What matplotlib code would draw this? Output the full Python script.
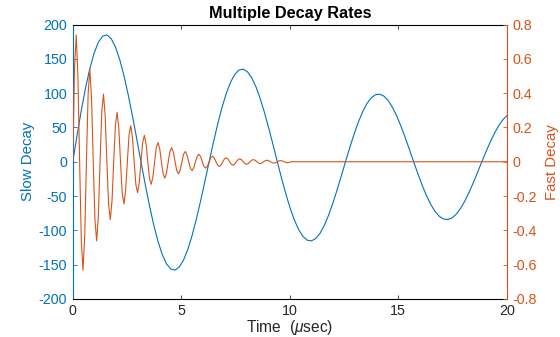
import numpy as np
import matplotlib.pyplot as plt

plt.rcParams['font.family'] = ['Liberation Sans', 'DejaVu Sans']
plt.rcParams['mathtext.fontset'] = 'custom'
plt.rcParams['mathtext.it'] = 'Liberation Sans:italic'
plt.rcParams['mathtext.rm'] = 'Liberation Sans'

BLUE = '#0072BD'
ORANGE = '#D95319'

SLOW_STEP = np.pi / 16
slow_decay = [
    0, 38.64, 75.05, 107.89, 135.98, 158.33, 174.21, 183.13, 184.89, 179.57,
    167.50, 149.27, 125.70, 97.80, 66.71, 33.67, 0, -33.02, -64.14, -92.21,
    -116.21, -135.31, -148.88, -156.51, -158.01, -153.46, -143.16, -127.57, -107.43, -83.59,
    -57.01, -28.78, 0, 28.22, 54.81, 78.80, 99.32, 115.64, 127.24, 133.76,
    135.04, 131.15, 122.35, 109.03, 91.81, 71.44, 48.72, 24.60, 0, -24.12,
    -46.85, -67.35, -84.88, -98.83, -108.74, -114.31, -115.41, -112.08, -104.56, -93.18,
    -78.47, -61.05, -41.64, -21.02, 0, 20.61, 40.04, 57.56, 72.54, 84.46,
    92.93, 97.70, 98.63, 95.79, 89.37, 79.64, 67.06, 52.18, 35.59, 17.97,
    0, -17.62, -34.22, -49.19, -62.00, -72.18, -79.43, -83.49, -84.29, -81.87,
    -76.38, -68.06, -57.31, -44.60, -30.42, -15.35, 0, 15.06, 29.24, 42.04,
    52.99, 61.69, 67.88,
]

# fast decay, sampled every pi/40 usec (8 samples per cycle) up to ~10 usec
FAST_STEP = np.pi / 40
fast_decay = [
    0, 0.5439, 0.7396, 0.5028, 0, -0.4648, -0.6321, -0.4297,
    0, 0.3973, 0.5402, 0.3673, 0, -0.3395, -0.4617, -0.3139,
    0, 0.2902, 0.3946, 0.2683, 0, -0.2480, -0.3372, -0.2293,
    0, 0.2119, 0.2882, 0.1959, 0, -0.1811, -0.2463, -0.1675,
    0, 0.1548, 0.2105, 0.1431, 0, -0.1323, -0.1799, -0.1223,
    0, 0.1131, 0.1537, 0.1045, 0, -0.0966, -0.1314, -0.0893,
    0, 0.0826, 0.1123, 0.0764, 0, -0.0706, -0.0960, -0.0653,
    0, 0.0603, 0.0820, 0.0558, 0, -0.0516, -0.0701, -0.0477,
    0, 0.0441, 0.0599, 0.0407, 0, -0.0377, -0.0512, -0.0348,
    0, 0.0322, 0.0438, 0.0298, 0, -0.0275, -0.0374, -0.0254,
    0, 0.0235, 0.0320, 0.0217, 0, -0.0201, -0.0273, -0.0186,
    0, 0.0172, 0.0233, 0.0159, 0, -0.0147, -0.0200, -0.0136,
    0, 0.0125, 0.0171, 0.0116, 0, -0.0107, -0.0146, -0.0099,
    0, 0.0092, 0.0125, 0.0085, 0, -0.0078, -0.0106, -0.0072,
    0, 0.0067, 0.0091, 0.0062, 0, -0.0057, -0.0078, -0.0053,
    0, 0.0049, 0.0066, 0.0045, 0, -0.0042, -0.0057, -0.0039,
    0,
]
fast_tail = (20.0, 0.0)  # flat after ~10 usec

slow_ticks = [-200, -150, -100, -50, 0, 50, 100, 150, 200]
fast_ticks = [-0.8, -0.6, -0.4, -0.2, 0, 0.2, 0.4, 0.6, 0.8]
time_ticks = [0, 5, 10, 15, 20]

t_slow = np.arange(len(slow_decay)) * SLOW_STEP
t_fast = np.append(np.arange(len(fast_decay)) * FAST_STEP, fast_tail[0])
y_fast = fast_decay + [fast_tail[1]]

fig = plt.figure(figsize=(5.6, 3.37), dpi=100)
ax1 = fig.add_axes([0.130, 0.113, 0.775, 0.814])
ax2 = ax1.twinx()

ax1.plot(t_slow, slow_decay, color=BLUE, lw=0.8)
ax2.plot(t_fast, y_fast, color=ORANGE, lw=0.8)

ax1.set_xlim(0, 20)
ax1.set_ylim(-200, 200)
ax2.set_ylim(-0.8, 0.8)
ax1.set_xticks(time_ticks)
ax1.set_yticks(slow_ticks)
ax1.set_yticklabels([str(v) for v in slow_ticks])
ax2.set_yticks(fast_ticks)
ax2.set_yticklabels([str(v) for v in fast_ticks])

for sp in ['left', 'right', 'top', 'bottom']:
    ax2.spines[sp].set_visible(sp == 'right')
ax1.spines['right'].set_visible(False)
ax1.spines['left'].set_color(BLUE)
ax2.spines['right'].set_color(ORANGE)
for sp in ax1.spines.values():
    sp.set_linewidth(0.8)
ax2.spines['right'].set_linewidth(0.8)

ax1.tick_params(axis='x', direction='in', top=True, length=3, width=0.6,
                labelsize=10.3, colors='#262626', pad=4)
ax1.tick_params(axis='y', direction='in', length=3, width=0.6,
                labelsize=10.3, colors=BLUE, pad=4)
ax2.tick_params(axis='y', direction='in', length=3, width=0.6,
                labelsize=10.3, colors=ORANGE, pad=4)

ax1.set_ylabel('Slow Decay', color=BLUE, fontsize=10.8, labelpad=3)
ax2.set_ylabel('Fast Decay', color=ORANGE, fontsize=10.8, labelpad=6)
ax1.set_xlabel(r'Time  ($\mu$sec)', color='#262626', fontsize=11.2, labelpad=0)
ax1.set_title('Multiple Decay Rates', fontsize=11.7, fontweight='bold', pad=5)

fig.savefig('out.png', dpi=100)
